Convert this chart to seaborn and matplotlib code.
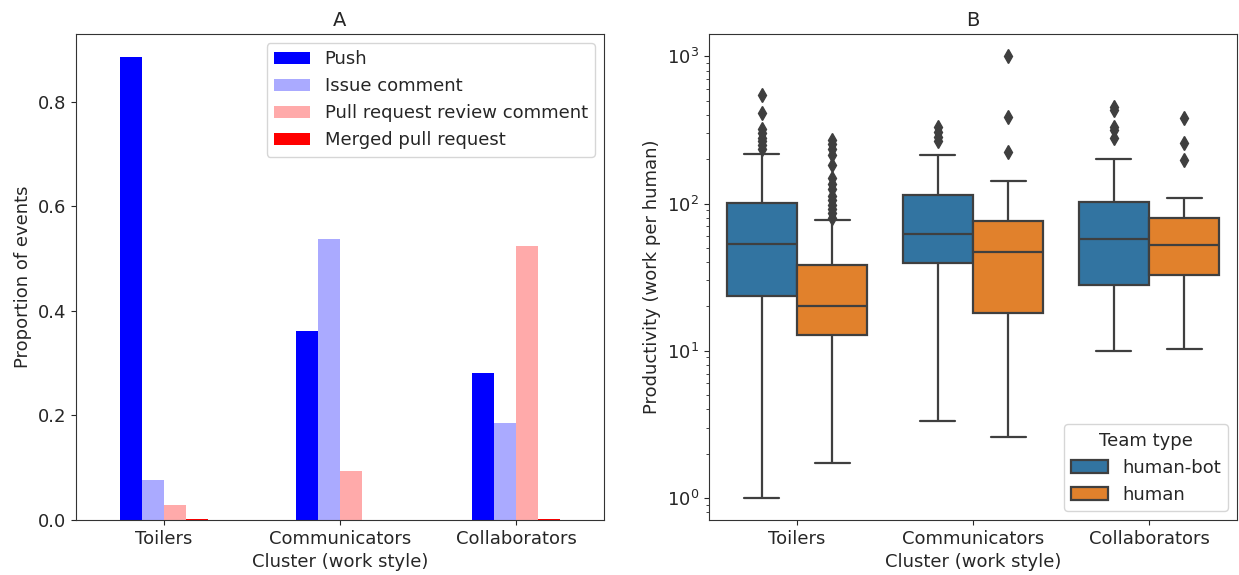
import numpy as np
import pandas as pd
import matplotlib
matplotlib.use("Agg")
import matplotlib.pyplot as plt
import seaborn as sns

# ---------------- data ----------------
clusters = ["Toilers", "Communicators", "Collaborators"]

# Panel A: proportion of events per cluster
event_types = ["Push", "Issue comment", "Pull request review comment", "Merged pull request"]
push = [0.886, 0.362, 0.282]
issue_comment = [0.077, 0.537, 0.186]
pr_review_comment = [0.028, 0.094, 0.525]
merged_pr = [0.002, 0.0005, 0.002]
event_colors = ["#0000ff", "#aaaaff", "#ffaaaa", "#ff0000"]

# Panel B: productivity box summaries (order: cluster x team type)
team_types = ["human-bot", "human"]
box_cluster = ["Toilers", "Toilers", "Communicators", "Communicators", "Collaborators", "Collaborators"]
box_team = ["human-bot", "human", "human-bot", "human", "human-bot", "human"]
whisker_low = [1.0, 1.74, 3.35, 2.59, 10.0, 10.2]
q1 = [23.4, 12.7, 39.5, 18.0, 27.8, 32.5]
median = [53.5, 20.0, 62.5, 47.0, 57.8, 52.0]
q3 = [101.0, 38.5, 115.0, 76.6, 103.0, 80.3]
whisker_high = [217.0, 77.0, 215.0, 143.0, 202.0, 109.0]
outliers = [
    [235, 250, 265, 280, 300, 320, 410, 546],
    [80, 86, 92, 98, 105, 112, 125, 135, 150, 182, 215, 235, 255, 270],
    [265, 285, 305, 330],
    [225, 389, 1004],
    [277, 315, 332, 431, 455],
    [197, 256, 379],
]
team_colors = ["#1f77b4", "#ff7f0e"]

# ---------------- build frames ----------------
df_a = pd.DataFrame({
    "Cluster": clusters * 4,
    "Event": [e for e in event_types for _ in clusters],
    "Proportion": push + issue_comment + pr_review_comment + merged_pr,
})

rows = []
for c, t, lo, a, m, b, hi, out in zip(box_cluster, box_team, whisker_low, q1, median,
                                       q3, whisker_high, outliers):
    k = len(out) + 1
    vals = [lo] + [a] * k + [m] * k + [b] * k + [hi] + list(out)
    for v in vals:
        rows.append((c, t, v))
df_b = pd.DataFrame(rows, columns=["Cluster", "Team type", "Productivity"])

# ---------------- plot ----------------
sns.set_style("white")
plt.rcParams["font.family"] = ["DejaVu Sans"]
plt.rcParams["font.size"] = 13
plt.rcParams["axes.edgecolor"] = "#333333"
plt.rcParams["xtick.bottom"] = True
plt.rcParams["ytick.left"] = True

FS = 13
fig = plt.figure(figsize=(12.39, 5.75), dpi=100)
ax1 = fig.add_axes([76 / 1239, 1 - 520 / 575, 528 / 1239, 486 / 575])
ax2 = fig.add_axes([709 / 1239, 1 - 520 / 575, 528 / 1239, 486 / 575])

sns.barplot(data=df_a, x="Cluster", y="Proportion", hue="Event", order=clusters,
            hue_order=event_types, palette=event_colors, width=0.5, saturation=1,
            linewidth=0, errorbar=None, ax=ax1)
ax1.set_title("A", fontsize=14)
ax1.set_xlabel("Cluster (work style)", fontsize=FS)
ax1.set_ylabel("Proportion of events", fontsize=FS)
ax1.set_yticks([0.0, 0.2, 0.4, 0.6, 0.8])
ax1.set_ylim(0, 0.93)
ax1.tick_params(labelsize=FS)
sns.move_legend(ax1, "upper right", title=None, fontsize=FS)

sns.boxplot(data=df_b, x="Cluster", y="Productivity", hue="Team type", order=clusters,
            hue_order=team_types, palette=team_colors, saturation=0.75,
            linecolor="#3f3f3f", linewidth=1.6,
            flierprops=dict(marker="d", markersize=7, markerfacecolor="#3f3f3f",
                            markeredgecolor="#3f3f3f"),
            ax=ax2)
ax2.set_yscale("log")
ax2.set_title("B", fontsize=14)
ax2.set_xlabel("Cluster (work style)", fontsize=FS)
ax2.set_ylabel("Productivity (work per human)", fontsize=FS)
ax2.tick_params(labelsize=FS)
sns.move_legend(ax2, "lower right", title="Team type", fontsize=FS, title_fontsize=FS)

fig.savefig("out.png", dpi=100)
